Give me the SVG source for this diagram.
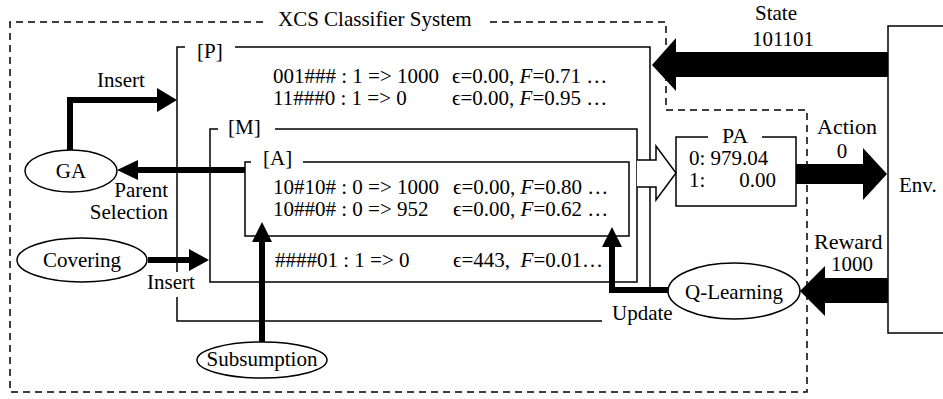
<svg xmlns="http://www.w3.org/2000/svg" width="943" height="399" viewBox="0 0 943 399">
<style>
text{font-family:"Liberation Serif","DejaVu Serif",serif;font-size:21px;fill:#000}
.row{font-size:21px}
.big{font-size:22px}
.line{fill:none;stroke:#000;stroke-width:1.5}
.dash{fill:none;stroke:#000;stroke-width:1.5;stroke-dasharray:7 5}
.thick{fill:none;stroke:#000;stroke-width:6}
.head{fill:#000;stroke:none}
.ell{fill:#fff;stroke:#000;stroke-width:1.5}
.m{text-anchor:middle}
</style>
<rect width="943" height="399" fill="#fff"/>

<g id="xcs-boundary">
<path class="dash" d="M263,22 H10 V392 H807 V110 H666 V22 H487"/>
<text x="278" y="26">XCS Classifier System</text>
</g>

<g id="env">
<path class="line" d="M960,26 H888 V333 H960"/>
<text x="899" y="192">Env.</text>
</g>

<g id="population-P">
<path class="line" d="M185,47 H177 V272 M177,297 V321 H602 M235,47 H650 V289"/>
<text x="197" y="58">[P]</text>
<text class="row" x="273" y="83">001### : 1 =&gt; 1000</text>
<text class="row" x="452" y="83">ϵ=0.00, <tspan font-style="italic">F</tspan>=0.71 …</text>
<text class="row" x="273" y="105">11###0 : 1 =&gt; 0</text>
<text class="row" x="452" y="105">ϵ=0.00, <tspan font-style="italic">F</tspan>=0.95 …</text>
</g>

<g id="matchset-M">
<path class="line" d="M218,129 H210 V282 H637 V129 H275"/>
<text x="228" y="134">[M]</text>
<text class="row" x="275" y="267">####01 : 1 =&gt; 0</text>
<text class="row" x="453" y="267">ϵ=443,&#160; <tspan font-style="italic">F</tspan>=0.01…</text>
</g>

<g id="actionset-A">
<path class="line" d="M251,162 H245 V236 H629 V162 H303"/>
<text x="263" y="165">[A]</text>
<text class="row" x="273" y="194">10#10# : 0 =&gt; 1000</text>
<text class="row" x="453" y="194">ϵ=0.00, <tspan font-style="italic">F</tspan>=0.80 …</text>
<text class="row" x="273" y="216">10##0# : 0 =&gt; 952</text>
<text class="row" x="453" y="216">ϵ=0.00, <tspan font-style="italic">F</tspan>=0.62 …</text>
</g>

<g id="PA">
<path class="line" d="M708,137 H676 V206 H796 V137 H762"/>
<text class="big m" x="735" y="143">PA</text>
<text x="689" y="165">0: 979.04</text>
<text x="689" y="187">1:</text>
<text x="776" y="187" text-anchor="end">0.00</text>
</g>

<g id="connectors">
<!-- GA insert into P -->
<path class="thick" d="M70,150 V100 H158"/>
<polygon class="head" points="157,88 177,100 157,112"/>
<text x="97" y="87">Insert</text>
<!-- Parent selection -->
<path class="thick" d="M245,170 H137"/>
<polygon class="head" points="138,160 117,170 138,180"/>
<text x="168" y="197" text-anchor="end">Parent</text>
<text x="168" y="219" text-anchor="end">Selection</text>
<!-- Covering insert -->
<path class="thick" d="M148,260 H190"/>
<polygon class="head" points="189,249 209,260 189,271"/>
<text x="147" y="289">Insert</text>
<!-- Subsumption -->
<path class="thick" d="M262,342 V241"/>
<polygon class="head" points="252,242 262,222 272,242"/>
<!-- Update -->
<path class="thick" d="M668,290 H612 V246"/>
<polygon class="head" points="602,247 612,227 622,247"/>
<text x="612" y="320">Update</text>
<!-- hollow arrow M -> PA -->
<path d="M637,160 H656 V146 L676,173 L656,200 V187 H637" fill="#fff" stroke="#000" stroke-width="1.5"/>
<!-- State -->
<polygon class="head" points="888,52 676,52 676,38 652,65 676,91 676,77 888,77"/>
<text class="m" x="776" y="20">State</text>
<text class="m" x="783" y="46">101101</text>
<!-- Action -->
<polygon class="head" points="796,164 863,164 863,148 887,174 863,200 863,184 796,184"/>
<text class="big" x="817" y="134">Action</text>
<text class="m" x="842" y="158">0</text>
<!-- Reward -->
<polygon class="head" points="888,278 825,278 825,266 800,291 825,316 825,303 888,303"/>
<text class="big" x="814" y="249">Reward</text>
<text x="831" y="271">1000</text>
</g>

<g id="GA">
<ellipse class="ell" cx="71" cy="171" rx="46" ry="21"/>
<text class="m" x="71" y="178">GA</text>
</g>
<g id="Covering">
<ellipse class="ell" cx="82" cy="260" rx="65" ry="22"/>
<text class="m" x="82" y="267">Covering</text>
</g>
<g id="Subsumption">
<ellipse class="ell" cx="262" cy="360" rx="65" ry="18"/>
<text class="m" x="262" y="366">Subsumption</text>
</g>
<g id="Q-Learning">
<ellipse class="ell" cx="734" cy="291" rx="66" ry="28"/>
<text class="m" x="734" y="299">Q-Learning</text>
</g>
</svg>
